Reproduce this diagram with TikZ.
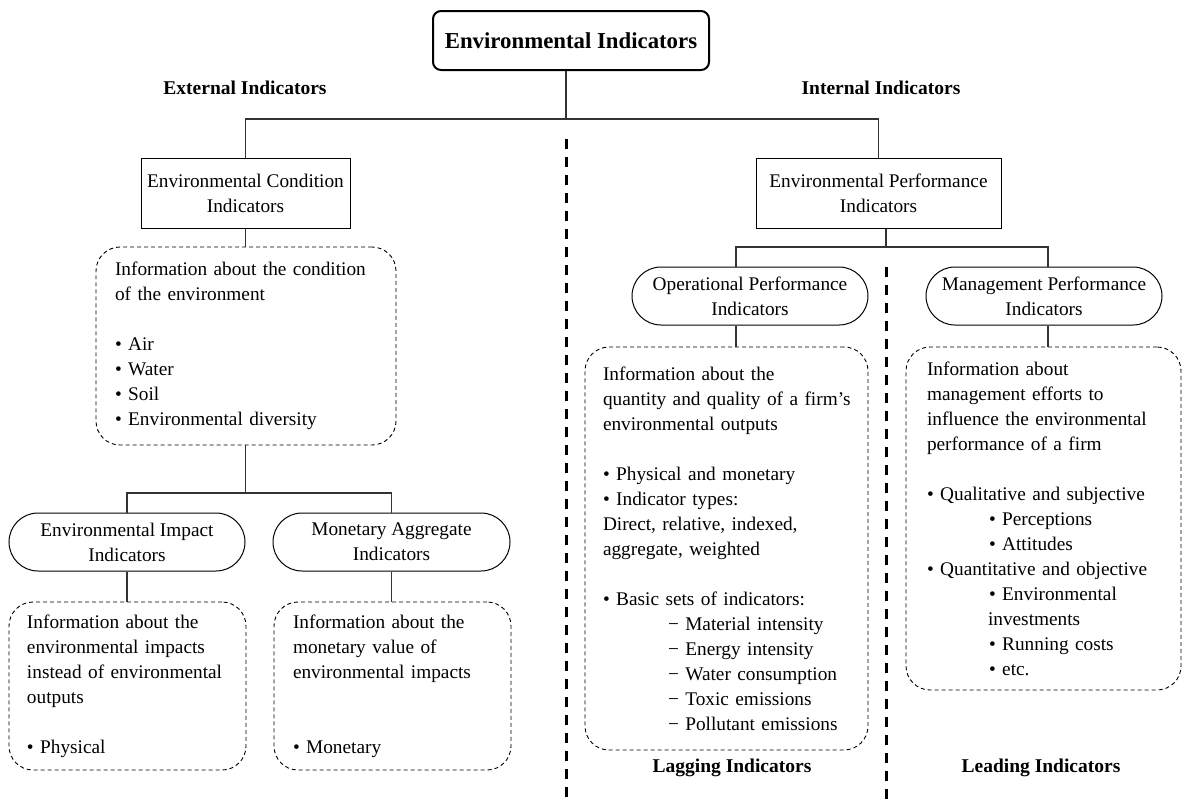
\documentclass[tikz,border=0pt]{standalone}
\usepackage{fontspec}
\setmainfont{Liberation Serif}
\newcommand{\bodyfont}{\fontsize{19.3}{25}\selectfont}
\newcommand{\headfont}{\fontsize{19.5}{24}\selectfont\bfseries}

\begin{document}
\begin{tikzpicture}[x=1pt,y=-1pt]

\tikzset{box/.style = {draw, line width=1pt, align=center, font=\bodyfont, inner sep=0pt}}
\tikzset{stadium/.style = {box, rounded corners=29pt, minimum width=236pt, minimum height=58pt}}
\tikzset{info/.style = {draw, line width=0.9pt, dash pattern=on 4pt off 3pt, rounded corners=24pt, align=left, font=\bodyfont, inner sep=0pt}}
\tikzset{conn/.style = {line width=1.1pt, black!80}}
\tikzset{divider/.style = {line width=3pt, dash pattern=on 10pt off 8pt}}
\tikzset{heading/.style = {font=\headfont}}

\useasboundingbox (0,0) rectangle (1186,801);

% top box
\node[box, line width=2pt, rounded corners=8pt, minimum width=276pt, minimum height=59pt,
  font=\fontsize{22.8}{27}\selectfont\bfseries] (top) at (571,40.5) {Environmental Indicators};

% headings
\node[heading] (ext) at (245,88) {External Indicators};
\node[heading] (int) at (881,88) {Internal Indicators};
\node[heading] (lag) at (732,768) {Lagging Indicators};
\node[heading] (lead) at (1041,768) {Leading Indicators};

% external side
\node[box, minimum width=209pt, minimum height=70pt] (cond) at (245.5,193) {Environmental Condition\\Indicators};
\node[info, minimum width=300pt, minimum height=198pt, text width=262pt] (condinfo) at (246,346)
  {Information about the condition\\of the environment\\[25pt]• Air\\• Water\\• Soil\\• Environmental diversity};
\node[stadium] (impact) at (127,542) {Environmental Impact\\Indicators};
\node[stadium, minimum width=237pt] (monagg) at (391.5,542) {Monetary Aggregate\\Indicators};
\node[info, minimum width=237pt, minimum height=168pt, text width=201pt] (impactinfo) at (127.5,686)
  {Information about the\\environmental impacts\\instead of environmental\\outputs\\[25pt]• Physical};
\node[info, minimum width=237pt, minimum height=168pt, text width=199pt] (monagginfo) at (392.5,686)
  {Information about the\\monetary value of\\environmental impacts\\[50pt]• Monetary};

% internal side
\node[box, minimum width=245pt, minimum height=70pt] (epi) at (878.5,193) {Environmental Performance\\Indicators};
\node[stadium] (op) at (750,296) {Operational Performance\\Indicators};
\node[stadium] (mg) at (1044,296) {Management Performance\\Indicators};
\node[info, minimum width=283pt, minimum height=403pt, text width=247pt] (opinfo) at (726.5,548.5)
  {Information about the\\\mbox{quantity and quality of a firm’s}\\environmental outputs\\[25pt]%
   • Physical and monetary\\• Indicator types:\\Direct, relative, indexed,\\aggregate, weighted\\[25pt]%
   • Basic sets of indicators:\\\hspace*{65pt}− Material intensity\\\hspace*{65pt}− Energy intensity\\%
   \hspace*{65pt}− Water consumption\\\hspace*{65pt}− Toxic emissions\\\hspace*{65pt}− Pollutant emissions};
\node[info, minimum width=275pt, minimum height=343pt, text width=233pt] (mginfo) at (1043.5,518.5)
  {Information about\\management efforts to\\influence the environmental\\performance of a firm\\[25pt]%
   • Qualitative and subjective\\\hspace*{62pt}• Perceptions\\\hspace*{62pt}• Attitudes\\%
   • Quantitative and objective\\\hspace*{62pt}• Environmental\\\hspace*{61pt}investments\\%
   \hspace*{62pt}• Running costs\\\hspace*{62pt}• etc.};

% junctions
\coordinate (trunk) at (566,119);
\coordinate (lsplit) at (245.5,493);
\coordinate (rsplit) at (886,247);
\coordinate (opx) at (736,247);
\coordinate (mgx) at (1048,247);
\coordinate (div1) at (566,139);
\coordinate (div1end) at (566,801);
\coordinate (div2) at (886,267);
\coordinate (div2end) at (886,801);

% connectors
\draw[conn] (top.south -| trunk) -- (trunk);
\draw[conn] (cond.north) -- (cond.north |- trunk) -- (epi.north |- trunk) -- (epi.north);
\draw[conn] (cond.south) -- (condinfo.north -| cond.south);
\draw[conn] (condinfo.south -| lsplit) -- (lsplit);
\draw[conn] (impact.north) -- (impact.north |- lsplit) -- (monagg.north |- lsplit) -- (monagg.north);
\draw[conn] (impact.south) -- (impactinfo.north -| impact.south);
\draw[conn] (monagg.south) -- (monagginfo.north -| monagg.south);
\draw[conn] (epi.south -| rsplit) -- (rsplit);
\draw[conn] (op.north -| opx) -- (opx) -- (mgx) -- (mg.north -| mgx);
\draw[conn] (op.south -| opx) -- (opinfo.north -| opx);
\draw[conn] (mg.south -| mgx) -- (mginfo.north -| mgx);

% dividers
\draw[divider] (div1) -- (div1end);
\draw[divider] (div2) -- (div2end);

\end{tikzpicture}
\end{document}
